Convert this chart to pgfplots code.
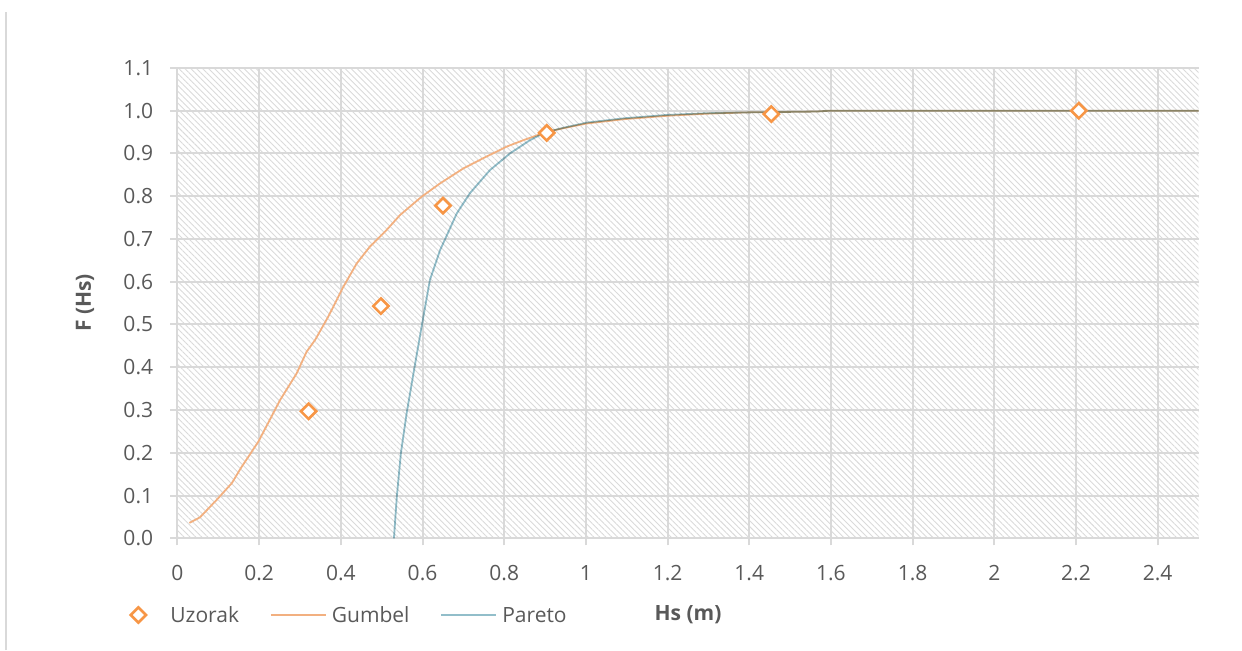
\documentclass[border=0pt]{standalone}
\usepackage{fontspec}
\setmainfont{Open Sans}
\usepackage{pgfplots}
\pgfplotsset{compat=1.18}
\usetikzlibrary{patterns.meta}
\definecolor{gridgray}{HTML}{D9D9D9}
\definecolor{hatchgray}{HTML}{DADADA}
\definecolor{txtgray}{HTML}{595959}
\definecolor{uzorak}{HTML}{F79646}
\definecolor{gumbel}{HTML}{F2B080}
\definecolor{pareto}{HTML}{92BECA}
\pgfplotsset{
  marklegend/.style={legend image code/.code={\path[draw=none] (-4.5pt,0pt) -- (13.5pt,0pt); \path[##1, draw=none] plot coordinates {(0pt,0pt)};}},
  linelegend/.style={legend image code/.code={\draw[##1] plot coordinates {(0pt,0pt) (27.5pt,0pt)};}},
}
\begin{document}
\begin{tikzpicture}
\useasboundingbox (-88.75pt,-55.85pt) rectangle (532.25pt,269.15pt);
\draw[gridgray, line width=1pt] (-85.75pt,-55.85pt) -- (-85.75pt,263.15pt);
\begin{axis}[
  at={(0pt,0pt)}, anchor=south west,
  scale only axis, width=510.5pt, height=235.2pt,
  xmin=0, xmax=2.5, ymin=0, ymax=1.1,
  xtick={0,0.2,0.4,0.6,0.8,1,1.2,1.4,1.6,1.8,2,2.2,2.4},
  ytick={0,0.1,0.2,0.3,0.4,0.5,0.6,0.7,0.8,0.9,1.0,1.1},
  grid=major,
  major grid style={draw=gridgray, line width=1pt},
  axis line style={draw=none},
  tick align=outside, tick pos=left,
  major tick length=3.5pt,
  major tick style={draw=gridgray, line width=1pt},
  /pgf/number format/assume math mode=true,
  yticklabel style={/pgf/number format/fixed, /pgf/number format/fixed zerofill, /pgf/number format/precision=1, anchor=east, inner sep=0pt, xshift=-8.5pt},
  every tick label/.append style={font=\fontsize{10.5}{12}\selectfont, text=txtgray},
  xticklabel style={anchor=north, inner sep=0pt, yshift=-10pt},
  axis background/.style={pattern={Lines[angle=-45,distance=2.1pt,line width=0.45pt]}, pattern color=hatchgray},
  xlabel={Hs (m)}, ylabel={F (Hs)},
  label style={font=\fontsize{10.5}{12}\selectfont\bfseries, text=txtgray},
  xlabel style={at={(axis description cs:0.5,-0.163)}, anchor=center},
  ylabel style={at={(axis description cs:-0.0906,0.5)}, anchor=center},
  legend columns=3,
  legend style={at={(axis description cs:-0.0475,-0.163)}, anchor=west,
    draw=none, fill=none, inner sep=0pt,
    font=\fontsize{10.5}{12}\selectfont, text=txtgray,
    nodes={inner sep=0pt, text depth=0pt},
    /tikz/every odd column/.append style={column sep=2.5pt},
    /tikz/every even column/.append style={column sep=15.5pt}},
  clip=true,
]
\addplot[only marks, mark=square*, mark size=2.7pt,
  mark options={rotate=45, draw=uzorak, fill=white, line width=1.3pt}, marklegend]
coordinates {(0.321,0.297) (0.498,0.543) (0.650,0.778) (0.904,0.948) (1.454,0.992) (2.207,1.0)};
\addlegendentry{Uzorak}
\addplot[gumbel, line width=0.9pt, mark=none, linelegend]
coordinates {(0.029,0.036) (0.055,0.049) (0.096,0.090) (0.133,0.129) (0.157,0.167) (0.198,0.226) (0.226,0.277) (0.251,0.323) (0.292,0.386) (0.316,0.436) (0.337,0.464) (0.369,0.518) (0.406,0.588) (0.439,0.643) (0.471,0.682) (0.512,0.721) (0.545,0.756) (0.598,0.799) (0.643,0.830) (0.700,0.865) (0.749,0.889) (0.806,0.916) (0.847,0.931) (0.900,0.949) (0.945,0.959) (1.002,0.970) (1.092,0.980) (1.198,0.988) (1.296,0.993) (1.398,0.996) (1.565,0.998) (1.598,1.0) (2.5,1.0)};
\addlegendentry{Gumbel}
\addplot[pareto, line width=0.9pt, mark=none, blend mode=multiply, linelegend]
coordinates {(0.530,0.0) (0.537,0.097) (0.547,0.199) (0.561,0.292) (0.582,0.409) (0.602,0.518) (0.618,0.604) (0.643,0.674) (0.684,0.760) (0.716,0.807) (0.765,0.861) (0.814,0.900) (0.863,0.931) (0.900,0.949) (0.945,0.960) (1.002,0.972) (1.092,0.982) (1.198,0.990) (1.296,0.994) (1.398,0.996) (1.565,0.998) (1.598,1.0) (2.5,1.0)};
\addlegendentry{Pareto}
\end{axis}
\end{tikzpicture}
\end{document}
